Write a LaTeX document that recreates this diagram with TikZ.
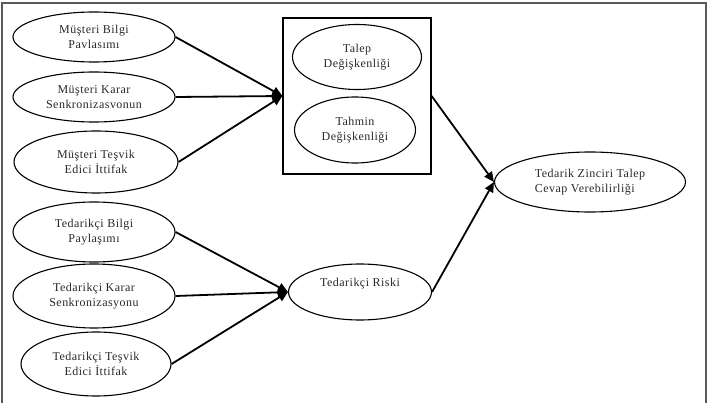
\documentclass[tikz,border=0pt]{standalone}
\usepackage{fontspec}
\setmainfont{Liberation Serif}[LetterSpace=4]
\usepackage{tikz}
\usetikzlibrary{shapes.geometric, arrows.meta, positioning, calc}
\definecolor{mytext}{RGB}{40,40,40}
\definecolor{myframe}{RGB}{90,90,90}
\tikzset{
  oval/.style={ellipse, draw=black, line width=1.1pt, inner sep=0pt, align=center,
    font=\fontsize{12}{15}\selectfont, text=mytext},
  arrow/.style={-{Triangle[length=10pt,width=9pt]}, line width=1.8pt, color=black},
  line/.style={line width=1.8pt, color=black}
}
\begin{document}
\begin{tikzpicture}[x=1pt, y=-1pt,
  panel/.style={rectangle, draw=black, line width=1.3pt, minimum width=148pt, minimum height=156pt, inner sep=0pt}
]
\useasboundingbox (0,0) rectangle (710,403);
\draw[myframe, line width=1.4pt] (2,420) -- (2,3) -- (706,3) -- (706,420);

% customer side
\node[oval, minimum width=162pt, minimum height=50pt] (mbilgi) at (94,37)  {Müşteri Bilgi\\Pavlasımı};
\node[oval, minimum width=162pt, minimum height=50pt] (mkarar) at (94,97)  {Müşteri Karar\\Senkronizasvonun};
\node[oval, minimum width=164pt, minimum height=62pt] (mtesvik) at (96,162) {Müşteri Teşvik\\Edici İttifak};

% supplier side
\node[oval, minimum width=162pt, minimum height=60pt] (tbilgi) at (94,232)  {Tedarikçi Bilgi\\Paylaşımı};
\node[oval, minimum width=162pt, minimum height=64pt] (tkarar) at (94,296)  {Tedarikçi Karar\\Senkronizasyonu};
\node[oval, minimum width=150pt, minimum height=64pt] (ttesvik) at (96,364) {Tedarikçi Teşvik\\Edici İttifak};

% variability box
\node[panel] (box) at (357,96) {};
\node[oval, minimum width=129pt, minimum height=65pt] (talep) at (357,57)  {Talep\\Değişkenliği};
\node[oval, minimum width=121pt, minimum height=66pt] (tahmin) at (355,130) {Tahmin\\Değişkenliği};

\node[oval, minimum width=143pt, minimum height=56pt] (risk) at (360,292) {Tedarikçi Riski\\[4pt]};
\node[oval, minimum width=191pt, minimum height=60pt, align=left] (cevap) at (590,182) {Tedarik Zinciri Talep\\Cevap Verebilirliği};

\draw[arrow] (mbilgi.east)  -- (box.west);
\draw[arrow] (mkarar.east)  -- (box.west);
\draw[arrow] (mtesvik.east) -- (box.west);

\draw[arrow] (tbilgi.east)  -- (risk.west);
\draw[arrow] (tkarar.east)  -- (risk.west);
\draw[arrow] (ttesvik.east) -- (risk.west);

\draw[arrow] (box.east)  -- (cevap.west);
\draw[arrow] (risk.east) -- (cevap.west);
\end{tikzpicture}
\end{document}
